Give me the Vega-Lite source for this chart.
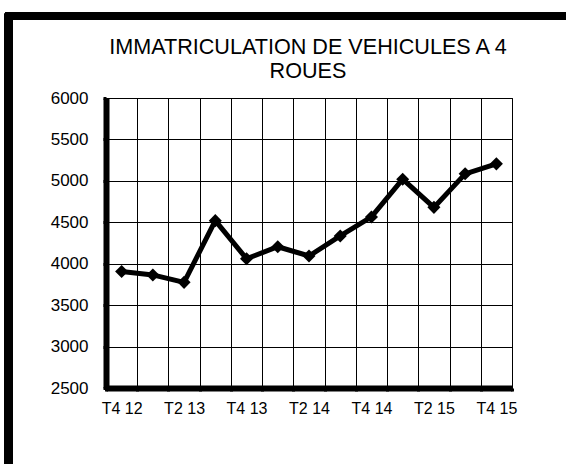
{
  "$schema": "https://vega.github.io/schema/vega-lite/v6.json",
  "autosize": {"type": "none"},
  "padding": {"left": 106, "top": 98, "right": 54, "bottom": 76},
  "width": 406,
  "height": 290,
  "background": "white",
  "config": {
    "view": {"stroke": "black", "strokeWidth": 1},
    "font": "Liberation Sans"
  },
  "title": {
    "text": ["IMMATRICULATION DE VEHICULES A 4", "ROUES"],
    "fontSize": 21.6,
    "fontWeight": "normal",
    "font": "Liberation Sans",
    "color": "black",
    "lineHeight": 24,
    "anchor": "middle",
    "frame": "group",
    "baseline": "bottom",
    "offset": 14,
    "dx": -1,
    "dy": 107
  },
  "data": {
    "values": [
      {"trimestre": "T4 12", "immatriculations": 3905},
      {"trimestre": "T1 13", "immatriculations": 3865},
      {"trimestre": "T2 13", "immatriculations": 3775},
      {"trimestre": "T3 13", "immatriculations": 4520},
      {"trimestre": "T4 13", "immatriculations": 4060},
      {"trimestre": "T1 14", "immatriculations": 4205},
      {"trimestre": "T2 14", "immatriculations": 4093},
      {"trimestre": "T3 14", "immatriculations": 4335},
      {"trimestre": "T4 14", "immatriculations": 4565},
      {"trimestre": "T1 15", "immatriculations": 5020},
      {"trimestre": "T2 15", "immatriculations": 4680},
      {"trimestre": "T3 15", "immatriculations": 5085},
      {"trimestre": "T4 15", "immatriculations": 5205}
    ]
  },
  "resolve": {"scale": {"x": "independent", "y": "independent"}},
  "layer": [
    {
      "layer": [
        {
          "mark": {"type": "line", "color": "black", "strokeWidth": 5, "strokeJoin": "miter"},
          "encoding": {
            "x": {
              "field": "trimestre",
              "type": "nominal",
              "sort": null,
              "scale": {"type": "band", "paddingInner": 0, "paddingOuter": 0},
              "axis": {
                "title": null,
                "tickBand": "extent",
                "grid": true,
                "gridColor": "black",
                "gridWidth": 1,
                "gridOpacity": 1,
                "domainColor": "black",
                "domainWidth": 6,
                "ticks": true,
                "tickColor": "black",
                "tickSize": 3,
                "tickWidth": 3,
                "labelAngle": 0,
                "labelFontSize": 16,
                "labelColor": "black",
                "labelFont": "Liberation Sans",
                "labelPadding": 9,
                "labelOverlap": false,
                "labelExpr": "(datum.label[1] == '2' || datum.label[1] == '4') ? datum.label : ''"
              }
            },
            "y": {
              "field": "immatriculations",
              "type": "quantitative",
              "scale": {"domain": [2500, 6000], "zero": false, "nice": false},
              "axis": {
                "title": null,
                "format": "d",
                "values": [2500, 3000, 3500, 4000, 4500, 5000, 5500, 6000],
                "grid": true,
                "gridColor": "black",
                "gridWidth": 1,
                "gridOpacity": 1,
                "domainColor": "black",
                "domainWidth": 6,
                "tickColor": "black",
                "tickSize": 3,
                "tickWidth": 3,
                "labelFontSize": 17,
                "labelColor": "black",
                "labelFont": "Liberation Sans",
                "labelPadding": 15
              }
            }
          }
        },
        {
          "mark": {"type": "point", "shape": "diamond", "filled": true, "color": "black", "size": 170, "opacity": 1},
          "encoding": {
            "x": {"field": "trimestre", "type": "nominal", "sort": null},
            "y": {"field": "immatriculations", "type": "quantitative"}
          }
        }
      ]
    },
    {
      "layer": [
        {
          "mark": {"type": "rule", "color": "black", "strokeWidth": 8, "strokeCap": "round", "clip": false},
          "encoding": {
            "x": {"datum": -0.2405, "type": "quantitative", "scale": {"domain": [0, 1], "zero": false, "nice": false}, "axis": null},
            "y": {"datum": 1.283, "type": "quantitative", "scale": {"domain": [0, 1], "zero": false, "nice": false}, "axis": null},
            "y2": {"datum": -0.3}
          }
        },
        {
          "mark": {"type": "rule", "color": "black", "strokeWidth": 8, "strokeCap": "round", "clip": false},
          "encoding": {
            "x": {"datum": -0.2405, "type": "quantitative"},
            "x2": {"datum": 1.16},
            "y": {"datum": 1.283, "type": "quantitative"}
          }
        },
        {
          "mark": {"type": "rule", "color": "black", "strokeWidth": 1.5, "clip": false},
          "encoding": {
            "x": {"datum": 1.16, "type": "quantitative"},
            "y": {"datum": 1.283, "type": "quantitative"},
            "y2": {"datum": -0.3}
          }
        }
      ]
    }
  ]
}
